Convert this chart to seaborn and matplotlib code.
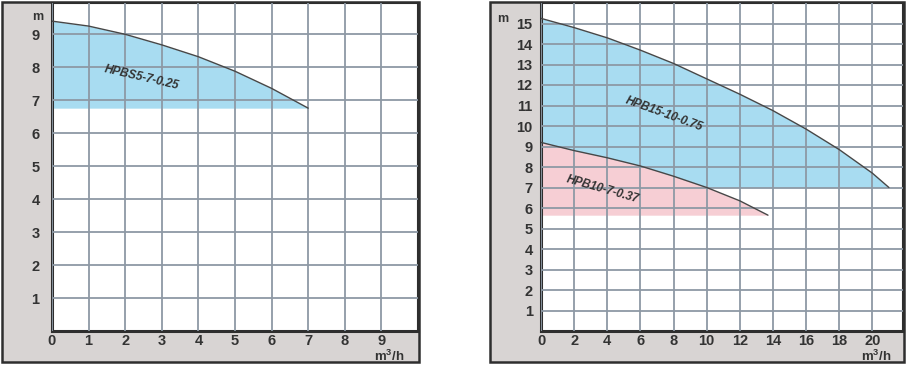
import matplotlib
matplotlib.use("Agg")
import matplotlib.pyplot as plt
from matplotlib.patches import Rectangle
import seaborn as sns
import pandas as pd

sns.set_theme(style="white")
plt.rcParams['font.family'] = ['Liberation Sans', 'DejaVu Sans']
plt.rcParams['mathtext.fontset'] = 'custom'
plt.rcParams['mathtext.rm'] = 'Liberation Sans:bold'
plt.rcParams['mathtext.default'] = 'rm'

# ---------------- data ----------------
# left chart
left_x_ticks = [0, 1, 2, 3, 4, 5, 6, 7, 8, 9]
left_y_ticks = [1, 2, 3, 4, 5, 6, 7, 8, 9]
hpbs5_q = [0, 1, 2, 3, 4, 5, 6, 7]
hpbs5_h = [9.4, 9.25, 9.0, 8.68, 8.32, 7.88, 7.36, 6.76]
hpbs5_min = 6.76
hpbs5_name = "HPBS5-7-0.25"

# right chart
right_x_ticks = [0, 2, 4, 6, 8, 10, 12, 14, 16, 18, 20]
right_y_ticks = list(range(1, 16))
hpb15_q = [0, 2, 4, 6, 8, 10, 12, 14, 16, 18, 20, 21]
hpb15_h = [15.25, 14.8, 14.3, 13.7, 13.05, 12.3, 11.55, 10.75, 9.85, 8.85, 7.7, 7.0]
hpb15_min = 7.0
hpb15_name = "HPB15-10-0.75"
hpb10_q = [0, 2, 4, 6, 8, 10, 12, 13.7]
hpb10_h = [9.2, 8.8, 8.45, 8.05, 7.55, 7.0, 6.35, 5.65]
hpb10_min = 5.65
hpb10_name = "HPB10-7-0.37"

y_unit = "m"
x_unit = "m$^3$/h"

# ---------------- style ----------------
W, H = 910, 365
FRAME_BG = "#d8d4d3"
EDGE = "#2e2e2e"
GRID = "#8d99a5"
BLUE = "#a8dcf1"
PINK = "#f6ced4"
CURVE = "#474747"

fig = plt.figure(figsize=(W / 100, H / 100), dpi=100)
fig.patch.set_facecolor("white")


def fx(px):
    return px / W


def fy(py):
    return 1 - py / H


# gray frames
for (x0, x1) in [(2, 419), (490, 904)]:
    fig.patches.append(Rectangle((fx(x0), fy(362)), fx(x1) - fx(x0), fy(2) - fy(362),
                                 transform=fig.transFigure, facecolor=FRAME_BG,
                                 edgecolor=EDGE, linewidth=1.8, zorder=-5))

axL = fig.add_axes([fx(52), fy(331), fx(418) - fx(52), fy(3) - fy(331)])
axR = fig.add_axes([fx(541), fy(331), fx(903) - fx(541), fy(3) - fy(331)])
axL.set_zorder(2)
axR.set_zorder(2)


def style_axis(ax, xlim, ylim, xticks, yticks, ypad):
    ax.set_facecolor("white")
    ax.set_xlim(*xlim)
    ax.set_ylim(*ylim)
    ax.set_xticks(xticks)
    ax.set_yticks(yticks)
    ax.set_axisbelow(False)
    ax.grid(True, color=GRID, linewidth=1.3)
    for s in ["left", "bottom"]:
        ax.spines[s].set_color(EDGE)
        ax.spines[s].set_linewidth(2.2)
    for s in ["right", "top"]:
        ax.spines[s].set_color(EDGE)
        ax.spines[s].set_linewidth(1.5)
    ax.tick_params(axis="both", length=0, labelsize=10.5, labelcolor="#333333")
    ax.tick_params(axis="y", pad=ypad)
    ax.tick_params(axis="x", pad=2)
    for lbl in ax.get_xticklabels() + ax.get_yticklabels():
        lbl.set_fontweight("bold")
    ax.set_xlabel("")
    ax.set_ylabel("")


def draw_pump(ax, q, h, hmin, color, name, tx, ty, rot):
    df = pd.DataFrame({"q": q, "h": h})
    ax.fill_between(df["q"], hmin, df["h"], color=color, linewidth=0, zorder=0.5)
    sns.lineplot(data=df, x="q", y="h", ax=ax, color=CURVE, linewidth=1.0, zorder=3)
    ax.text(tx, ty, name, rotation=rot, ha="center", va="center", fontsize=8.5,
            fontweight="bold", style="italic", color="#333333", zorder=4,
            rotation_mode="anchor")


# left chart
draw_pump(axL, hpbs5_q, hpbs5_h, hpbs5_min, BLUE, hpbs5_name, 2.45, 7.7, -13)
style_axis(axL, (0, 10), (0, 9.95), left_x_ticks, left_y_ticks, 9)

# right chart
draw_pump(axR, hpb15_q, hpb15_h, hpb15_min, BLUE, hpb15_name, 7.4, 10.6, -20)
draw_pump(axR, hpb10_q, hpb10_h, hpb10_min, PINK, hpb10_name, 3.7, 6.9, -16)
style_axis(axR, (0, 21.85), (0, 16.0), right_x_ticks, right_y_ticks, 6)

# unit labels
for (px, py) in [(43, 17), (508, 19)]:
    fig.text(fx(px), fy(py), y_unit, ha="right", va="center", fontsize=9,
             fontweight="bold", color="#333333")
for (px, py) in [(389, 356), (876, 356)]:
    fig.text(fx(px), fy(py), x_unit, ha="center", va="center", fontsize=9.5,
             fontweight="bold", color="#333333")

fig.savefig("out.png", dpi=100, facecolor="white")
